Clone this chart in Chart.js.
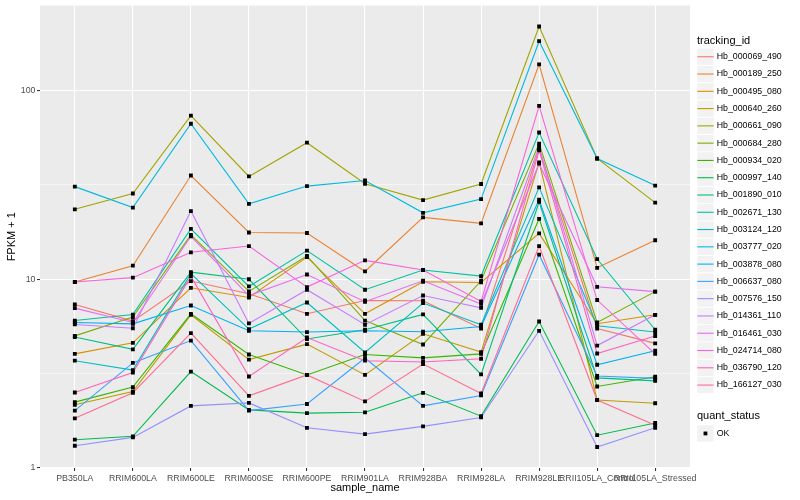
<!DOCTYPE html>
<html><head><meta charset="utf-8">
<script src="https://cdn.jsdelivr.net/npm/chart.js@4.4.0/dist/chart.umd.min.js"></script>
<style>html,body{margin:0;padding:0;background:#fff;}#wrap{position:relative;width:800px;height:500px;}</style>
</head><body><div id="wrap"><canvas id="c" width="800" height="500"></canvas></div>
<script>
const categories = ["PB350LA","RRIM600LA","RRIM600LE","RRIM600SE","RRIM600PE","RRIM901LA","RRIM928BA","RRIM928LA","RRIM928LE","RRII105LA_Control","RRII105LA_Stressed"];
const seriesNames = ["Hb_000069_490","Hb_000189_250","Hb_000495_080","Hb_000640_260","Hb_000661_090","Hb_000684_280","Hb_000934_020","Hb_000997_140","Hb_001890_010","Hb_002671_130","Hb_003124_120","Hb_003777_020","Hb_003878_080","Hb_006637_080","Hb_007576_150","Hb_014361_110","Hb_016461_030","Hb_024714_080","Hb_036790_120","Hb_166127_030"];
const seriesColors = ["#F8766D","#EA8331","#D89000","#C09B00","#A3A500","#7CAE00","#39B600","#00BB4E","#00BF7D","#00C1A3","#00BFC4","#00BAE0","#00B0F6","#35A2FF","#9590FF","#C77CFF","#E76BF3","#FA62DB","#FF62BC","#FF6C90"];
const hb000069 = [7.35, 6.0, 9.78, 8.38, 6.56, 7.72, 7.69, 5.48, 49, 5.48, 4.57];
const hb000189 = [9.67, 11.8, 35.5, 17.7, 17.6, 11.0, 21.3, 19.8, 138, 11.5, 16.1];
const hb000495 = [4.02, 4.6, 9.01, 8.0, 13.1, 6.56, 9.70, 9.62, 17.5, 5.81, 6.48];
const hb000640 = [2.16, 2.54, 6.48, 3.75, 4.53, 3.11, 5.14, 4.11, 41.7, 2.29, 2.20];
const hb000661 = [23.5, 28.5, 73.7, 35.1, 53, 32.1, 26.3, 32.0, 219, 43.7, 25.5];
const hb000684 = [5.01, 6.3, 17.2, 8.62, 13.3, 6.04, 4.51, 9.82, 52.4, 5.90, 8.6];
const hb000934 = [2.23, 2.68, 6.56, 3.99, 3.11, 3.99, 3.83, 4.02, 20.9, 2.70, 3.04];
const hb000997 = [1.41, 1.47, 3.24, 2.03, 1.95, 1.97, 2.50, 1.88, 5.97, 1.49, 1.73];
const hb001890 = [4.94, 4.25, 10.9, 10.0, 4.82, 5.40, 6.51, 3.13, 25.7, 3.00, 2.89];
const hb002671 = [6.04, 6.5, 18.5, 9.16, 14.2, 8.8, 11.2, 10.4, 60, 12.8, 5.40];
const hb003124 = [3.70, 3.3, 10.7, 5.44, 7.53, 4.09, 7.48, 5.74, 30.7, 5.67, 5.25];
const hb003777 = [31.0, 24.0, 66.8, 25.1, 31.2, 33.4, 22.5, 26.6, 183, 43.7, 31.4];
const hb003878 = [5.90, 5.8, 7.26, 5.33, 5.25, 5.33, 5.27, 5.62, 26.4, 3.52, 4.18];
const hb006637 = [2.01, 3.6, 4.73, 2.01, 2.18, 3.82, 2.13, 2.42, 13.5, 3.07, 2.98];
const hb007576 = [1.31, 1.45, 2.13, 2.21, 1.63, 1.51, 1.66, 1.85, 5.33, 1.29, 1.63];
const hb014361 = [5.76, 5.5, 23.0, 5.83, 8.8, 5.74, 8.20, 7.06, 50.6, 4.45, 6.48];
const hb016461 = [7.03, 5.9, 16.9, 8.2, 10.6, 7.6, 9.82, 7.4, 41.0, 9.12, 8.6];
const hb024714 = [9.67, 10.2, 13.9, 15.0, 9.09, 12.6, 11.2, 7.63, 83, 7.76, 4.02];
const hb036790 = [2.51, 3.2, 10.35, 3.05, 4.91, 3.70, 3.64, 3.79, 48.2, 4.04, 5.0];
const hb166127 = [1.83, 2.50, 5.18, 2.41, 3.11, 2.25, 3.55, 2.48, 15.0, 2.29, 1.68];
const seriesValues = [hb000069,hb000189,hb000495,hb000640,hb000661,hb000684,hb000934,hb000997,hb001890,hb002671,hb003124,hb003777,hb003878,hb006637,hb007576,hb014361,hb016461,hb024714,hb036790,hb166127];
const yMajorTicks = [1, 10, 100];
const yMajorLabels = ["1", "10", "100"];
const yMinorTicks = [3.1623, 31.623];
const legendTitle = "tracking_id";
const statusTitle = "quant_status";
const statusLabels = ["OK"];
const xTitle = "sample_name";
const yTitle = "FPKM + 1";

const FAM = '"Liberation Sans", Arial, Helvetica, sans-serif';
Chart.defaults.font.family = FAM;

const toPts = vals => vals.map((v, j) => ({x: j, y: v}));
const lineSets = seriesValues.map((vals, i) => ({
  label: seriesNames[i], data: toPts(vals), showLine: true,
  borderColor: seriesColors[i], backgroundColor: seriesColors[i],
  borderWidth: 1.1, pointRadius: 0, tension: 0, order: 20 - i
}));
const pointSets = seriesValues.map((vals, i) => ({
  label: seriesNames[i] + ' pts', data: toPts(vals), showLine: false,
  pointStyle: 'rect', pointRadius: 2.7, pointBackgroundColor: '#000000',
  pointBorderWidth: 0, order: 0
}));

const isMajor = v => yMajorTicks.some(t => Math.abs(t - v) < 1e-6);

const bgPlugin = {
  id: 'bg',
  beforeDraw(chart) {
    const {ctx, chartArea: a} = chart;
    ctx.save();
    ctx.fillStyle = '#FFFFFF';
    ctx.fillRect(0, 0, chart.width, chart.height);
    ctx.fillStyle = '#EBEBEB';
    ctx.fillRect(a.left, a.top, a.right - a.left, a.bottom - a.top);
    ctx.restore();
  }
};

const legendPlugin = {
  id: 'ggLegend',
  afterDraw(chart) {
    const ctx = chart.ctx;
    const x0 = 697.3, step = 17.28, key = 16.3;
    ctx.save();
    ctx.textBaseline = 'middle';
    ctx.textAlign = 'left';
    ctx.fillStyle = '#000000';
    ctx.font = '11px ' + FAM;
    ctx.fillText(legendTitle, 697, 41);
    ctx.font = '8.8px ' + FAM;
    seriesNames.forEach((name, i) => {
      const y0 = 48.6 + i * step;
      ctx.fillStyle = '#F2F2F2';
      ctx.fillRect(x0, y0, key, key);
      ctx.strokeStyle = seriesColors[i];
      ctx.lineWidth = 1.1;
      ctx.beginPath();
      ctx.moveTo(x0, y0 + key / 2);
      ctx.lineTo(x0 + key, y0 + key / 2);
      ctx.stroke();
      ctx.fillStyle = '#000000';
      ctx.fillText(name, 716.7, y0 + key / 2);
    });
    ctx.font = '11px ' + FAM;
    ctx.fillText(statusTitle, 697, 416);
    ctx.font = '8.8px ' + FAM;
    statusLabels.forEach((lab, i) => {
      const y0 = 425.3 + i * step;
      ctx.fillStyle = '#F2F2F2';
      ctx.fillRect(x0, y0, key, key);
      ctx.fillStyle = '#000000';
      ctx.fillRect(x0 + key / 2 - 1.9, y0 + key / 2 - 1.9, 3.8, 3.8);
      ctx.fillText(lab, 716.7, y0 + key / 2);
    });
    ctx.restore();
  }
};

new Chart(document.getElementById('c'), {
  type: 'scatter',
  data: { datasets: [...lineSets, ...pointSets] },
  options: {
    responsive: false, animation: false, events: [],
    layout: { padding: { left: 0, right: 110, top: 5.5, bottom: 0 } },
    plugins: { legend: { display: false }, tooltip: { enabled: false } },
    scales: {
      x: {
        type: 'linear', min: -0.6, max: 10.6,
        afterBuildTicks: s => { s.ticks = categories.map((c, i) => ({ value: i })); },
        afterFit: s => { s.height = 32; s.paddingLeft = 0; s.paddingRight = 0; },
        ticks: {
          callback: v => categories[v] !== undefined ? categories[v] : '',
          autoSkip: false, maxRotation: 0, minRotation: 0, padding: 2.5,
          color: '#4D4D4D', font: { size: 8.8, family: FAM }
        },
        grid: { color: '#FFFFFF', lineWidth: 1.07, tickLength: 3, tickColor: '#333333', drawTicks: true },
        border: { display: false },
        title: { display: true, text: xTitle, color: '#000000', font: { size: 11, family: FAM }, padding: { top: 0, bottom: 5 } }
      },
      y: {
        type: 'logarithmic', min: 0.998, max: 283,
        afterBuildTicks: s => {
          s.ticks = [...yMajorTicks, ...yMinorTicks].sort((a, b) => a - b).map(v => ({ value: v }));
        },
        afterFit: s => { s.width = 40; s.paddingTop = 0; s.paddingBottom = 0; },
        ticks: {
          callback: v => { const k = yMajorTicks.findIndex(t => Math.abs(t - v) < 1e-6); return k >= 0 ? yMajorLabels[k] : ''; },
          padding: 1.5, color: '#4D4D4D', font: { size: 8.8, family: FAM }
        },
        grid: {
          color: '#FFFFFF',
          lineWidth: c => (c.tick && isMajor(c.tick.value)) ? 1.07 : 0.53,
          tickColor: c => (c.tick && isMajor(c.tick.value)) ? '#333333' : 'rgba(0,0,0,0)',
          tickLength: 3, drawTicks: true
        },
        border: { display: false },
        title: { display: true, text: yTitle, color: '#000000', font: { size: 11, family: FAM }, padding: { top: 5.4, bottom: 0 } }
      }
    }
  },
  plugins: [bgPlugin, legendPlugin]
});
</script></body></html>
